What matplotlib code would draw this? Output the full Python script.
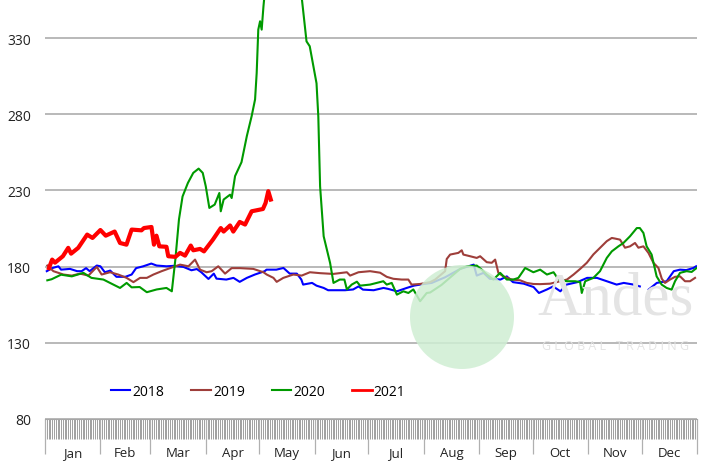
import numpy as np
import matplotlib
matplotlib.use("Agg")
import matplotlib.pyplot as plt
from matplotlib.patches import Circle
from matplotlib.lines import Line2D

plt.rcParams['font.family'] = ['Open Sans', 'DejaVu Sans']

# dia del año (0..365) y valores
days_2018 = [1, 4, 7.5, 9, 14, 18, 20.5, 23, 25, 29, 31, 33.5, 36.5, 40, 45, 48.5, 51, 55, 59.5,
             62.5, 68, 72, 77.5, 82, 85, 87.5, 91.5, 94.5, 96, 101.5, 105.5, 109, 113, 117.5, 123,
             124, 129.5, 133.5, 137, 141, 143.5, 144.5, 149.5, 152, 156, 158.5, 163.5, 168, 172.5,
             175.5, 178, 184, 189.5, 192, 197, 202.5, 206.5, 212, 216.5, 224, 232.5, 236, 240,
             241.7, 245.5, 249, 255, 258.5, 262, 268, 273.5, 276.5, 281, 284.5, 288.5, 292, 298,
             303.5, 309, 314.5, 320, 324, 329.5, 333, 335.5, 338, 342.5, 348, 352, 355.5, 359,
             363, 364.5]
vals_2018 = [177, 179, 180.2, 178, 178.5, 177, 177, 179, 177, 180.7, 180.2, 176.3, 177.4, 173.3,
             173.3, 174.8, 179, 180.2, 182, 180.7, 180.2, 180.5, 179.8, 177.6, 178.4, 176.3, 171.9,
             175.4, 172.1, 171.5, 172.6, 170, 172.6, 174.8, 177, 178, 178, 179.1, 175.4, 175.4,
             171.5, 168.2, 169.3, 167.5, 166, 164.5, 164.5, 164.5, 165, 167, 164.9, 164.5, 166,
             165.4, 163.8, 166, 167.5, 168.6, 169.3, 173, 178.5, 179.8, 181.3, 174.1, 175.9, 172,
             171.5, 173.6, 169.8, 168.8, 166.6, 162.7, 165, 167, 163.8, 168.2, 169.8, 172.6, 172.6,
             170.4, 168.2, 169.3, 168.2, 167, np.nan, 165, 169.3, 170.4, 177, 178, 177.7, 179.1,
             180.2]

days_2019 = [1.3, 4.7, 10.3, 15, 19.6, 24.3, 29, 31.7, 36.4, 41, 45.7, 49.5, 53.2, 57, 60.7,
             65.3, 70, 75.6, 80.3, 84, 86.8, 90.5, 93.3, 97, 100.8, 104.5, 109.2, 116.6, 122.3,
             124.1, 127.9, 129.7, 133.4, 139, 143.7, 148.3, 154, 161.4, 169, 170.8, 175.5, 182,
             187.6, 191.3, 195, 199.7, 203.4, 205.2, 210, 215.6, 218.4, 224, 224.9, 226.8, 231.4,
             233.3, 234.2, 238, 241.7, 243.6, 247.3, 250.1, 252, 253.8, 256.6, 261.3, 266, 269.7,
             273.4, 277.2, 282.8, 288.4, 292.2, 295.9, 299.6, 303.3, 307, 310.8, 314.5, 317.3,
             319.1, 321.9, 324.7, 327.5, 330.3, 332.2, 335, 337.8, 340.6, 343.4, 345.3, 347.1,
             349.9, 352.7, 355.5, 358.3, 361.1, 363.9]
vals_2019 = [180.7, 177, 174.8, 174.1, 175.4, 174.1, 179.8, 174.8, 176.3, 174.8, 172.6, 169.8,
             172.6, 172.6, 174.8, 177, 179, 181.3, 180.2, 184.6, 178, 176.3, 177, 180.2, 175.4,
             179, 179, 178.5, 176.3, 174.8, 172.6, 170, 172.6, 174.8, 174.1, 176.3, 175.7, 175.2,
             176.3, 174.1, 176.3, 177, 176, 173.3, 172, 171.5, 171.5, 168.2, 168.6, 169.8, 171.5,
             177, 185, 187.9, 189, 190.7, 187.9, 186.8, 185.7, 186.8, 182.9, 182.5, 184.6, 175.9,
             173.6, 171.5, 171, 169.3, 168.6, 168.5, 168.8, 170.4, 171.5, 174.8, 178.5, 182.5, 188,
             192.4, 196.7, 198.8, 198.4, 197.7, 192.4, 193.3, 195.5, 192.4, 193.3, 189, 182.5,
             179.1, 172, 169.3, 171.5, 173.3, 173.6, 170.4, 170.4, 172.6]

days_2020 = [1.3, 3.7, 9, 15, 21.5, 26, 32.7, 36.4, 42, 45.7, 48.5, 53, 57, 62.5, 68, 71, 73,
             75, 77, 80, 83, 86, 88.3, 90, 92, 95, 97.6, 98.4, 100, 103.6, 104.5, 106.4, 110, 113,
             115.7, 117.6, 118.5, 119.4, 120.4, 121.3, 122.3, 124, 130, 137, 142, 146.4, 148.2,
             152, 153, 154, 156, 159.6, 161.5, 165, 167.6, 169, 171.7, 174.6, 176.4, 182, 185.7,
             189.4, 191.3, 194.1, 197, 200.6, 203.4, 206.2, 210, 213.7, 215.6, 222, 232.4, 236,
             241.7, 244.5, 247.3, 251, 254.8, 258.5, 262.2, 265, 268.8, 273.4, 277.2, 281, 284.7,
             287.5, 292.2, 296.8, 299.6, 300.5, 302.4, 307, 310.7, 314.5, 317.3, 321, 323.8,
             327.5, 331.3, 333, 335, 336.8, 339.6, 342.4, 345.2, 348, 350.8, 352.7, 355.5, 359.2,
             362, 364.8]
vals_2020 = [171, 171.7, 174.7, 173.6, 175.9, 172.6, 171.5, 169.3, 166, 169.3, 166.4, 166.6,
             163.2, 165, 166, 163.8, 185, 211, 226, 234.9, 241.5, 244.3, 241.5, 232.7, 218.5,
             220.7, 228.3, 216.3, 224, 227.2, 225, 239.4, 248.5, 265.7, 278.8, 289.7, 307, 335.5,
             341, 335.5, 350.8, 372, 400, 405, 375, 327.8, 324.6, 300.3, 278.6, 232.7, 199.9,
             182.4, 169.3, 171.5, 171.5, 165, 168.2, 170.1, 167.5, 168.2, 169.3, 170.4, 168.2,
             169.3, 161.6, 163.8, 162.7, 165, 157.3, 162.7, 163, 168, 178.5, 180.2, 180.7, 178,
             174.8, 171.5, 175.9, 171.5, 171.5, 172.6, 179.1, 176.3, 178, 174.8, 176.3, 171.5,
             170.4, 170.4, 169.8, 162.7, 170.4, 172.6, 177, 185.7, 190, 193.3, 195.5, 199.9, 205.3,
             205.3, 202.1, 193.3, 187.9, 173.6, 168.2, 166, 164.9, 170.4, 175.9, 177, 176.5, 179.1]

days_2021 = [2.2, 4, 5.6, 10, 13, 14.6, 18.6, 23.6, 26.6, 31, 34, 39, 42, 45.6, 48.5, 54, 55.4,
             59.6, 61, 62.4, 64, 68, 69, 73, 75.6, 78.4, 81.6, 83, 86.8, 89, 94, 98.4, 100, 103.6,
             105.4, 109, 112, 115.7, 122, 123.5, 125, 126.4]
vals_2021 = [179, 184.6, 182.6, 186.8, 192.3, 188.5, 192.3, 201, 198.8, 204, 200.3, 203, 195.5,
             194.4, 204.3, 203.8, 205.3, 206, 194.4, 200.3, 193.3, 193, 186.8, 186.4, 189, 187.2,
             193.8, 190.7, 191.6, 190, 197.7, 205.3, 203, 207, 203, 209.3, 207.6, 216.3, 217.8,
             221.8, 229.5, 224]

months = ['Jan', 'Feb', 'Mar', 'Apr', 'May', 'Jun', 'Jul', 'Aug', 'Sep', 'Oct', 'Nov', 'Dec']
month_starts = [0, 31, 59, 90, 120, 151, 181, 212, 243, 273, 304, 334, 365]
y_ticks = [80, 130, 180, 230, 280, 330]

fig = plt.figure(figsize=(7.17, 4.64), dpi=100)
ax = fig.add_axes([45 / 717, 1 - 420 / 464, 652 / 717, 420 / 464])

ax.plot(days_2018, vals_2018, color='#0000ff', lw=1.5, label='2018')
ax.plot(days_2019, vals_2019, color='#9e3e3a', lw=1.5, label='2019')
ax.plot(days_2020, vals_2020, color='#009a00', lw=1.5, label='2020')
ax.plot(days_2021, vals_2021, color='#ff0000', lw=3, label='2021')

ax.set_xlim(0, 365)
ax.set_ylim(80, 355.6)
ax.set_yticks(y_ticks)
ax.tick_params(axis='y', length=0, labelsize=10, pad=10, labelcolor='#222222')
ax.yaxis.grid(True, color='#a6a6a6', lw=1.1)
ax.set_axisbelow(True)
for s in ['left', 'right', 'top']:
    ax.spines[s].set_visible(False)
ax.spines['bottom'].set_color('#a6a6a6')

# eje de fechas: marcas diarias y separadores de meses
ax.set_xticks(month_starts)
ax.set_xticklabels([])
ax.set_xticks(np.arange(0, 366), minor=True)
ax.tick_params(axis='x', which='major', length=25, width=0.9, color='#b0b0b0')
ax.tick_params(axis='x', which='minor', length=14.5, width=0.7, color='#a0a0a0')
for i, m in enumerate(months):
    mid = (month_starts[i] + month_starts[i + 1]) / 2
    ax.text(mid, -0.079, m, transform=ax.get_xaxis_transform(), ha='center', va='center',
            fontsize=9.5, color='#222222')

handles = [Line2D([], [], color='#0000ff', lw=1.5), Line2D([], [], color='#9e3e3a', lw=1.5),
           Line2D([], [], color='#009a00', lw=1.5), Line2D([], [], color='#ff0000', lw=2)]
ax.legend(handles, ['2018', '2019', '2020', '2021'], loc='center', ncol=4,
          bbox_to_anchor=(0.327, 0.066), frameon=False, fontsize=10, handlelength=1.4,
          handletextpad=0.15, columnspacing=1.95)

# marca de agua
fig.patches.append(Circle((4.62, 1.46), 0.52, transform=fig.dpi_scale_trans,
                          facecolor='#cfeed3', edgecolor='none', alpha=0.85, zorder=2))
fig.text(616 / 717, 1 - 300 / 464, 'Andes', ha='center', va='center', fontsize=44,
         family='Liberation Serif', color='#e4e4e4', zorder=2)
fig.text(616 / 717, 1 - 346 / 464, 'G L O B A L   T R A D I N G', ha='center', va='center',
         fontsize=9, color='#e4e4e4', zorder=2)

fig.savefig('out.png', dpi=100)
